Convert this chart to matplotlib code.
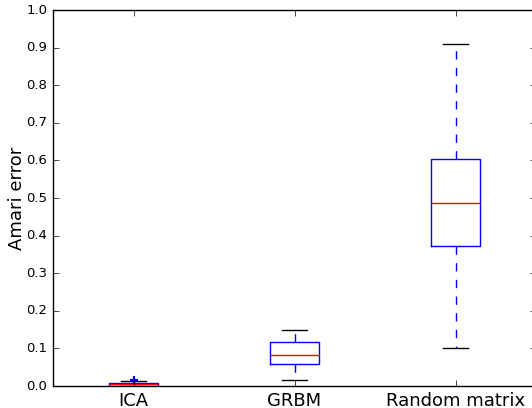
import matplotlib
matplotlib.use("Agg")
from matplotlib import pyplot as plt

plt.style.use("classic")

# summary statistics
labels = ["ICA", "GRBM", "Random matrix"]
whislo = [0.001, 0.016, 0.101]
q1 = [0.001, 0.0585, 0.372]
med = [0.004, 0.082, 0.487]
q3 = [0.007, 0.116, 0.604]
whishi = [0.012, 0.149, 0.910]
fliers = [[0.017], [], []]

stats = []
for i in range(len(labels)):
    stats.append(dict(label=labels[i], whislo=whislo[i], q1=q1[i], med=med[i],
                      q3=q3[i], whishi=whishi[i], fliers=fliers[i]))

fig = plt.figure(figsize=(5.32, 4.08), dpi=100, facecolor="white")
ax = fig.add_axes([53 / 532, 22 / 408, 483 / 532, 376 / 408])

ax.bxp(stats, widths=0.3,
       boxprops=dict(color="b"),
       whiskerprops=dict(color="b", linestyle="--"),
       capprops=dict(color="k"),
       medianprops=dict(color="r"),
       flierprops=dict(marker="+", markeredgecolor="b", markersize=6, markeredgewidth=1.5))

ax.set_xlim(0.5, 3.5)
ax.set_ylim(0, 1.0)
ax.set_yticks([i / 10 for i in range(11)])
ax.tick_params(axis="y", labelsize=9.5)
ax.tick_params(axis="x", labelsize=13)
ax.set_ylabel("Amari error", fontsize=13, labelpad=0)

fig.savefig("out.png", dpi=100, facecolor="white")
